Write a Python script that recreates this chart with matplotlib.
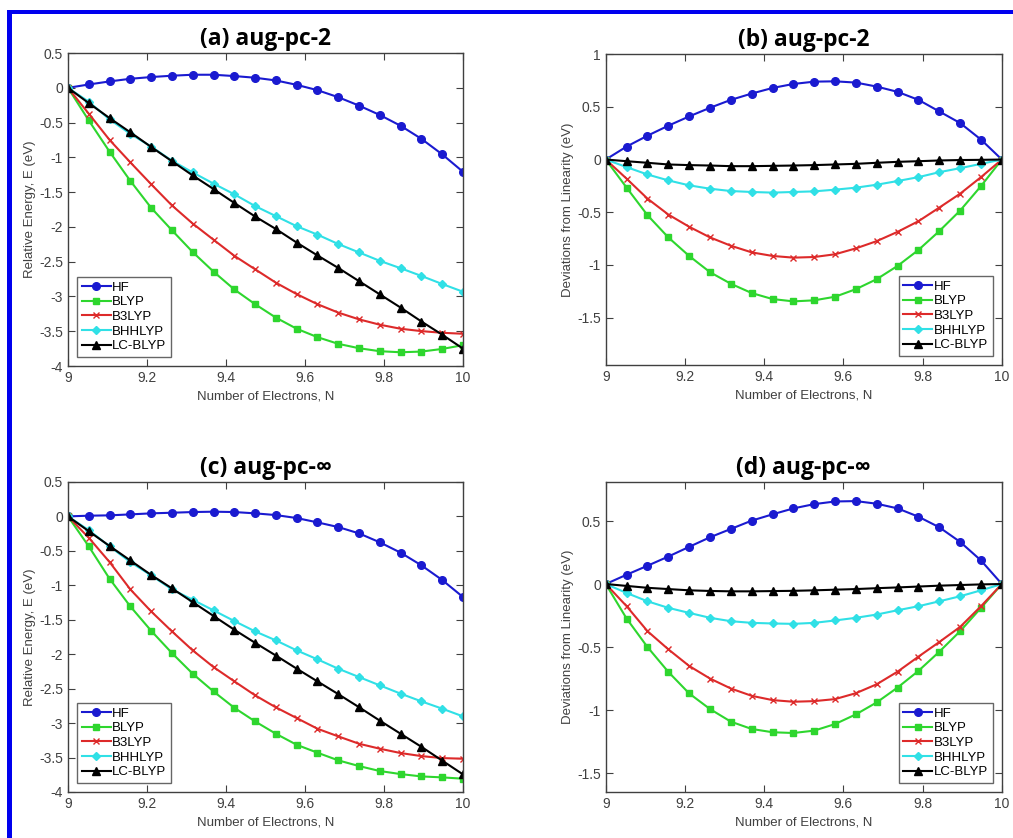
import matplotlib
matplotlib.use("Agg")
import matplotlib.pyplot as plt
import numpy as np
from matplotlib.patches import Rectangle

plt.rcParams['font.family'] = ['Liberation Sans', 'DejaVu Sans']
plt.rcParams['axes.unicode_minus'] = False

# number of electrons, 20 points from 9 to 10
N = np.linspace(9, 10, 20)
methods = ['HF', 'BLYP', 'B3LYP', 'BHHLYP', 'LC-BLYP']

# (a) aug-pc-2 relative energies (eV)
a_hf = [0, 0.048, 0.092, 0.130, 0.155, 0.174, 0.188, 0.188, 0.169, 0.145,
        0.106, 0.043, -0.034, -0.135, -0.256, -0.391, -0.546, -0.734, -0.957, -1.208]
a_blyp = [0, -0.469, -0.918, -1.338, -1.725, -2.048, -2.362, -2.643, -2.899, -3.111,
          -3.304, -3.464, -3.585, -3.681, -3.744, -3.787, -3.802, -3.792, -3.754, -3.70]
a_b3lyp = [0, -0.372, -0.749, -1.072, -1.386, -1.691, -1.952, -2.184, -2.415, -2.609,
           -2.802, -2.966, -3.111, -3.232, -3.329, -3.406, -3.464, -3.498, -3.522, -3.536]
a_bhh = [0, -0.20, -0.454, -0.662, -0.845, -1.048, -1.217, -1.377, -1.531, -1.700,
         -1.845, -1.990, -2.111, -2.246, -2.367, -2.488, -2.594, -2.705, -2.821, -2.932]
a_lc = [0, -0.22, -0.435, -0.64, -0.85, -1.055, -1.26, -1.455, -1.655, -1.85,
        -2.03, -2.225, -2.41, -2.59, -2.78, -2.97, -3.16, -3.36, -3.55, -3.75]

# (b) aug-pc-2 deviations from linearity (eV)
b_hf = [0, 0.123, 0.226, 0.321, 0.409, 0.491, 0.566, 0.626, 0.679, 0.717,
        0.739, 0.742, 0.730, 0.692, 0.642, 0.566, 0.456, 0.346, 0.189, 0]
b_blyp = [0, -0.267, -0.528, -0.739, -0.915, -1.069, -1.179, -1.267, -1.324, -1.346,
          -1.336, -1.302, -1.230, -1.135, -1.009, -0.858, -0.679, -0.484, -0.252, 0]
b_b3lyp = [0, -0.182, -0.371, -0.522, -0.638, -0.739, -0.818, -0.881, -0.915, -0.931,
           -0.925, -0.899, -0.843, -0.774, -0.686, -0.585, -0.456, -0.324, -0.167, 0]
b_bhh = [0, -0.072, -0.142, -0.198, -0.245, -0.277, -0.299, -0.308, -0.314, -0.308,
         -0.302, -0.286, -0.267, -0.239, -0.204, -0.167, -0.120, -0.082, -0.041, 0]
b_lc = [0, -0.016, -0.031, -0.047, -0.053, -0.057, -0.063, -0.063, -0.060, -0.057,
        -0.053, -0.047, -0.041, -0.031, -0.022, -0.016, -0.009, -0.005, -0.003, 0]

# (c) aug-pc-inf relative energies (eV)
c_hf = [0, 0.010, 0.015, 0.029, 0.044, 0.053, 0.063, 0.068, 0.063, 0.044,
        0.019, -0.024, -0.087, -0.155, -0.247, -0.377, -0.527, -0.711, -0.924, -1.171]
c_blyp = [0, -0.435, -0.905, -1.307, -1.660, -1.984, -2.284, -2.541, -2.778, -2.976,
          -3.155, -3.315, -3.430, -3.541, -3.624, -3.696, -3.740, -3.774, -3.788, -3.807]
c_b3lyp = [0, -0.31, -0.663, -1.06, -1.379, -1.669, -1.945, -2.187, -2.394, -2.597,
           -2.772, -2.927, -3.082, -3.193, -3.300, -3.372, -3.435, -3.479, -3.508, -3.517]
c_bhh = [0, -0.20, -0.435, -0.663, -0.856, -1.06, -1.21, -1.364, -1.519, -1.669,
         -1.800, -1.945, -2.075, -2.211, -2.332, -2.453, -2.573, -2.685, -2.791, -2.903]
c_lc = [0, -0.215, -0.43, -0.64, -0.85, -1.045, -1.245, -1.445, -1.645, -1.835,
        -2.02, -2.21, -2.395, -2.58, -2.77, -2.965, -3.155, -3.345, -3.545, -3.745]

# (d) aug-pc-inf deviations from linearity (eV)
d_hf = [0, 0.074, 0.145, 0.218, 0.295, 0.371, 0.437, 0.503, 0.553, 0.600,
        0.634, 0.655, 0.658, 0.637, 0.600, 0.534, 0.450, 0.334, 0.187, 0]
d_blyp = [0, -0.274, -0.500, -0.697, -0.868, -0.992, -1.092, -1.150, -1.176, -1.182,
          -1.163, -1.111, -1.034, -0.939, -0.821, -0.689, -0.537, -0.374, -0.189, 0]
d_b3lyp = [0, -0.176, -0.374, -0.518, -0.650, -0.750, -0.829, -0.887, -0.921, -0.934,
           -0.929, -0.913, -0.866, -0.795, -0.695, -0.576, -0.460, -0.340, -0.176, 0]
d_bhh = [0, -0.071, -0.137, -0.189, -0.229, -0.268, -0.295, -0.308, -0.313, -0.316,
         -0.308, -0.289, -0.268, -0.242, -0.208, -0.176, -0.137, -0.097, -0.050, 0]
d_lc = [0, -0.015, -0.03, -0.04, -0.05, -0.055, -0.058, -0.058, -0.056, -0.054,
        -0.05, -0.045, -0.04, -0.033, -0.027, -0.02, -0.013, -0.008, -0.003, 0]

styles = [
    dict(color='#1a1ad0', marker='o', ms=5.5),
    dict(color='#2ed62e', marker='s', ms=4.5),
    dict(color='#dd2a2a', marker='x', ms=5, mew=1.0),
    dict(color='#30e0e6', marker='D', ms=4.5),
    dict(color='black', marker='^', ms=6),
]

fig = plt.figure(figsize=(10.13, 8.38), dpi=100)

# blue frame lines at top and left
fig.add_artist(Rectangle((7 / 1013, 1 - 14 / 838), 1, 4 / 838,
                         transform=fig.transFigure, color='#0000ee', lw=0))
fig.add_artist(Rectangle((7 / 1013, 0), 5 / 1013, 1 - 10 / 838,
                         transform=fig.transFigure, color='#0000ee', lw=0))


def panel(rect, series, title, ylabel, ylim, yticks, loc):
    ax = fig.add_axes(rect)
    for y, name, st in zip(series, methods, styles):
        ax.plot(N, y, lw=1.5, label=name, mec=st['color'], **st)
    ax.set_xlim(9, 10)
    ax.set_ylim(*ylim)
    ax.set_xticks([9, 9.2, 9.4, 9.6, 9.8, 10])
    ax.set_xticklabels(['9', '9.2', '9.4', '9.6', '9.8', '10'])
    ax.set_yticks(yticks)
    ax.set_yticklabels(['%g' % t for t in yticks])
    ax.tick_params(direction='in', top=True, right=True, length=5,
                   labelsize=10, colors='#404040', labelcolor='#404040')
    for s in ax.spines.values():
        s.set_color('#404040')
        s.set_linewidth(1.0)
    ax.set_xlabel('Number of Electrons, N', fontsize=9.5, color='#404040', labelpad=4)
    ax.set_ylabel(ylabel, fontsize=9.5, color='#404040', labelpad=2)
    ax.set_title(title, fontsize=16.5, fontweight='bold', family=['Open Sans', 'DejaVu Sans'],
                 pad=6)
    leg = ax.legend(loc=loc, fontsize=9.5, frameon=True, fancybox=False, edgecolor='#404040',
                    handlelength=2.2, handletextpad=0.1, labelspacing=0.18,
                    borderpad=0.35, borderaxespad=0.7)
    leg.get_frame().set_linewidth(1.0)
    return ax


e_ticks = [0.5, 0, -0.5, -1, -1.5, -2, -2.5, -3, -3.5, -4]
panel([0.0671, 0.5632, 0.390, 0.3735], [a_hf, a_blyp, a_b3lyp, a_bhh, a_lc],
      '(a) aug-pc-2', 'Relative Energy, E (eV)', (-4, 0.5), e_ticks, 'lower left')
panel([0.598, 0.5644, 0.391, 0.371], [b_hf, b_blyp, b_b3lyp, b_bhh, b_lc],
      '(b) aug-pc-2', 'Deviations from Linearity (eV)', (-1.95, 1),
      [1, 0.5, 0, -0.5, -1, -1.5], 'lower right')
panel([0.0671, 0.0549, 0.390, 0.370], [c_hf, c_blyp, c_b3lyp, c_bhh, c_lc],
      '(c) aug-pc-∞', 'Relative Energy, E (eV)', (-4, 0.5), e_ticks, 'lower left')
panel([0.598, 0.0549, 0.391, 0.370], [d_hf, d_blyp, d_b3lyp, d_bhh, d_lc],
      '(d) aug-pc-∞', 'Deviations from Linearity (eV)', (-1.65, 0.81),
      [0.5, 0, -0.5, -1, -1.5], 'lower right')

fig.savefig('out.png', dpi=100)
